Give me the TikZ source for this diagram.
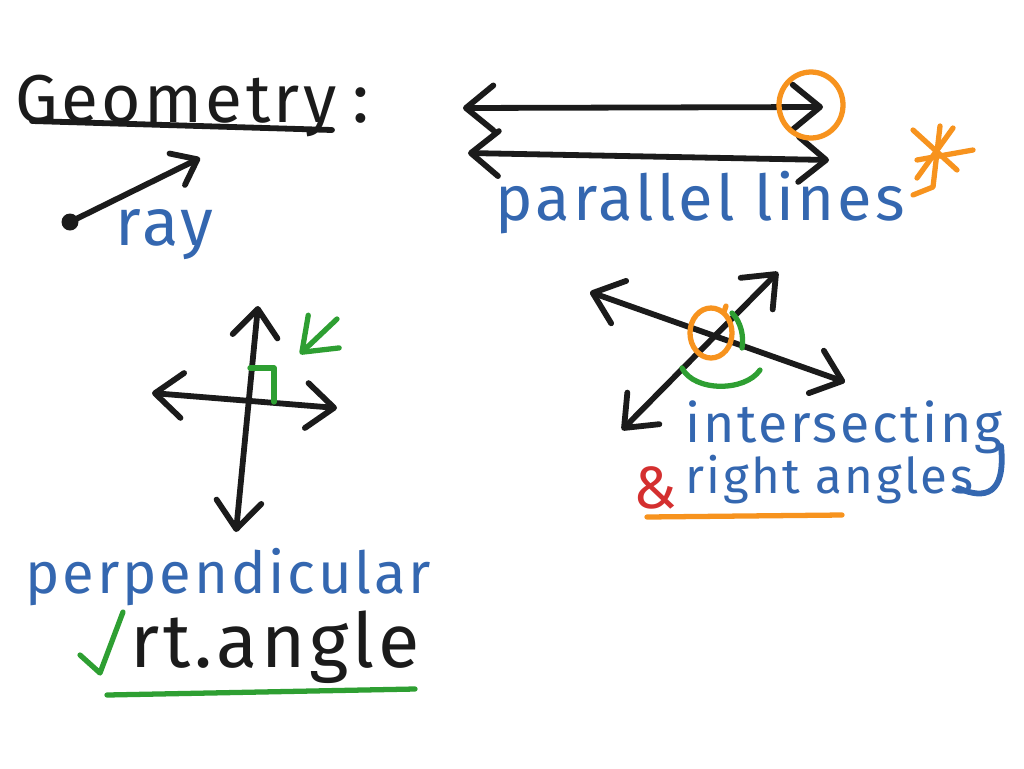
\documentclass[tikz,border=0pt]{standalone}
\usepackage{fontspec}
\usetikzlibrary{arrows.meta, positioning}
\newfontfamily\handfont[LetterSpace=5]{Fira Sans}
\definecolor{penblue}{HTML}{3467B0}
\definecolor{pengreen}{HTML}{2E9F32}
\definecolor{penorange}{HTML}{F7931E}
\definecolor{penred}{HTML}{D42F2F}
\definecolor{penblack}{HTML}{1B1B1B}

\begin{document}
\begin{tikzpicture}[
  x=0.02cm, y=-0.02cm,
  hand/.style={font=\handfont\fontsize{#1}{#1}\selectfont, inner sep=0pt, anchor=base west},
  stroke/.style={line width=3.3pt, line cap=round, line join=round, color=penblack},
  marker/.style={line width=3pt, line cap=round, line join=round},
  line/.style={stroke, {Straight Barb[length=5.5mm, width=9mm, round]}-{Straight Barb[length=5.5mm, width=9mm, round]}},
  ray/.style={stroke, -{Straight Barb[length=4.5mm, width=7mm, round]}},
]
  \fill[white] (0,0) rectangle (1024,768);
  \useasboundingbox (0,0) rectangle (1024,768);

  \node[hand=38.5, text=penblack] (geom) at (15,122) {Geometry};
  \node[hand=40, text=penblack, right=0.3cm of geom.base east, anchor=base west] (colon) {:};
  \coordinate (geomA) at (32,121);
  \coordinate (geomB) at (332,130);
  \draw[stroke] (geomA) -- (geomB);

  \coordinate (rayA) at (70,222);
  \coordinate (rayB) at (200,158);
  \draw[ray] (rayA) -- (rayB);
  \fill[penblack] (rayA) circle (0.17cm);
  \node[hand=38, text=penblue] (raylbl) at (115,245) {ray};

  \coordinate (parA) at (463,108);
  \coordinate (parB) at (823,107);
  \coordinate (parC) at (468,153);
  \coordinate (parD) at (829,160);
  \draw[line] (parA) -- (parB);
  \draw[line] (parC) -- (parD);
  \draw[marker, penorange] (811,105) ellipse [x radius=0.64cm, y radius=0.66cm];
  \node[hand=36, text=penblue] (parlbl) at (495,220) {parallel lines};
  \coordinate (star) at (937,155);
  \draw[marker, penorange] (940,126) -- (933,187) -- (913,195);
  \draw[marker, penorange] (913,130) -- (957,170);
  \draw[marker, penorange] (953,128) -- (917,178);
  \draw[marker, penorange] (917,160) -- (973,150);

  \coordinate (perpA) at (258,306);
  \coordinate (perpB) at (236,532);
  \coordinate (perpC) at (152,393);
  \coordinate (perpD) at (337,408);
  \draw[line] (perpA) -- (perpB);
  \draw[line] (perpC) -- (perpD);
  \draw[marker, pengreen] (250,368) -- (274,368) -- (274,402);
  \coordinate (tickA) at (337,319);
  \coordinate (tickB) at (300,354);
  \draw[marker, pengreen, -{Straight Barb[length=6mm, width=9mm, round]}] (tickA) -- (tickB);
  \node[hand=33, text=penblue] (perplbl) at (25,593) {perpendicular};
  \node[hand=43, text=penblack] (rtlbl) at (130,667) {rt.angle};
  \draw[marker, pengreen] (80,655) -- (100,673) -- (123,612);
  \coordinate (rtA) at (107,695);
  \coordinate (rtB) at (415,689);
  \draw[marker, pengreen] (rtA) -- (rtB);

  \coordinate (intA) at (590,292);
  \coordinate (intB) at (845,382);
  \coordinate (intC) at (622,430);
  \coordinate (intD) at (778,272);
  \draw[line] (intA) -- (intB);
  \draw[line] (intC) -- (intD);
  \draw[marker, penorange] (711,333) ellipse [x radius=0.42cm, y radius=0.5cm];
  \draw[marker, penorange] (724,312) -- (726,306);
  \draw[marker, pengreen] (732,313) .. controls (741,322) and (744,336) .. (742,348);
  \draw[marker, pengreen] (682,368) .. controls (694,392) and (745,392) .. (760,370);
  \node[hand=30.5, text=penblue] (intlbl) at (685,442) {intersecting};
  \draw[marker, penblue, line width=3.3pt] (1001,446) .. controls (1006,495) and (985,500) .. (958,488);
  \node[hand=34, text=penred] (amp) at (633,508) {\&};
  \node[hand=28, text=penblue] (rightlbl) at (685,493) {right angles};
  \coordinate (rightA) at (647,517);
  \coordinate (rightB) at (842,515);
  \draw[marker, penorange] (rightA) -- (rightB);
\end{tikzpicture}
\end{document}
